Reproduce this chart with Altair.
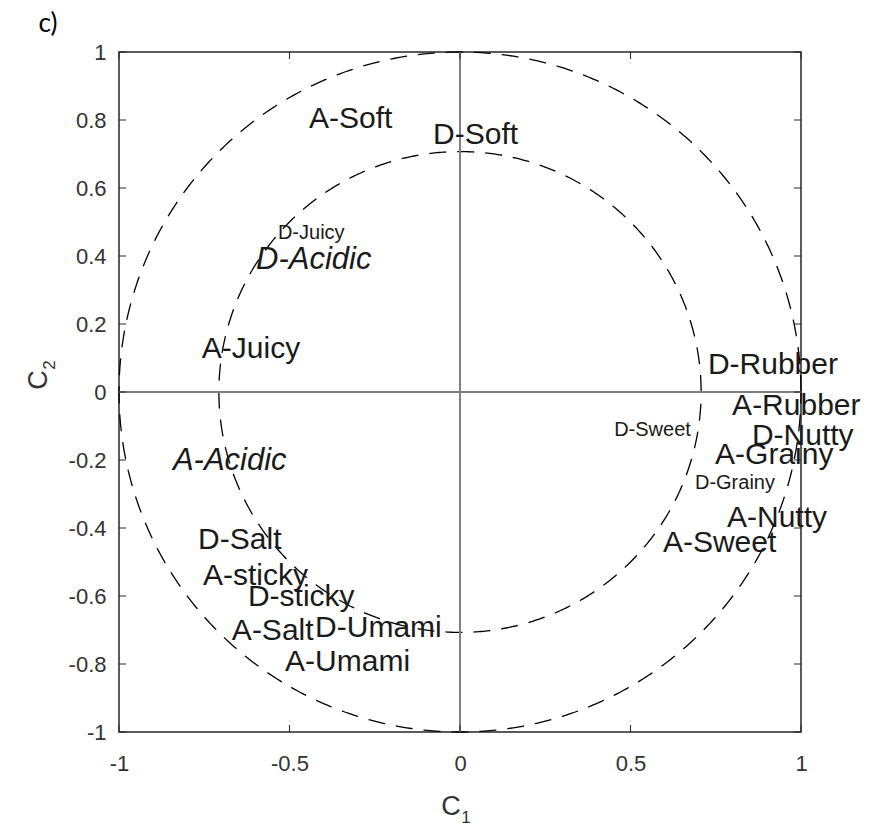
import altair as alt
import numpy as np
import pandas as pd

# ---- data ----
reg_labels = ["A-Soft", "D-Soft", "A-Juicy", "D-Rubber", "A-Rubber", "D-Nutty",
              "A-Grainy", "A-Nutty", "A-Sweet", "D-Salt", "A-sticky", "D-sticky",
              "A-Salt", "D-Umami", "A-Umami"]
reg_x = [-0.443, -0.079, -0.757, 0.727, 0.798, 0.856,
         0.748, 0.783, 0.595, -0.768, -0.754, -0.622,
         -0.669, -0.425, -0.513]
reg_y = [0.803, 0.756, 0.126, 0.079, -0.041, -0.129,
         -0.185, -0.371, -0.444, -0.435, -0.541, -0.603,
         -0.703, -0.694, -0.794]

small_labels = ["D-Juicy", "D-Sweet", "D-Grainy"]
small_x = [-0.534, 0.452, 0.689]
small_y = [0.468, -0.112, -0.268]

italic_labels = ["D-Acidic", "A-Acidic"]
italic_x = [-0.598, -0.842]
italic_y = [0.388, -0.203]

x_ticks = [-1, -0.5, 0, 0.5, 1]
y_ticks = [-1, -0.8, -0.6, -0.4, -0.2, 0, 0.2, 0.4, 0.6, 0.8, 1]
circle_radii = [1.0, 0.7071]

W, H = 682, 680
FONT = "Liberation Sans"
AX = "#262626"

# ---- tables ----
theta = np.linspace(0, 2 * np.pi, 721)
circ = pd.concat([
    pd.DataFrame({"x": r * np.cos(theta), "y": r * np.sin(theta),
                  "i": np.arange(len(theta)), "r": r})
    for r in circle_radii
])
reg_df = pd.DataFrame({"label": reg_labels, "x": reg_x, "y": reg_y})
small_df = pd.DataFrame({"label": small_labels, "x": small_x, "y": small_y})
ital_df = pd.DataFrame({"label": italic_labels, "x": italic_x, "y": italic_y})
xt = pd.DataFrame({"x": x_ticks})
yt = pd.DataFrame({"y": y_ticks})
hline_df = pd.DataFrame({"x": [-1.0], "x2": [1.0], "y": [0.0]})
vline_df = pd.DataFrame({"y": [-1.0], "y2": [1.0], "x": [0.0]})

LBL = "replace(format(datum.value, '~g'), '\u2212', '-')"
xscale = alt.Scale(domain=[-1, 1], nice=False, zero=False)
yscale = alt.Scale(domain=[-1, 1], nice=False, zero=False)
xaxis = alt.Axis(values=x_ticks, labelExpr=LBL, ticks=False, domain=False, grid=False,
                 labelFont=FONT, labelFontSize=22, labelColor="#333333",
                 labelPadding=21, labelFlush=False, title=None)
yaxis = alt.Axis(values=y_ticks, labelExpr=LBL, ticks=False, domain=False, grid=False,
                 labelFont=FONT, labelFontSize=22, labelColor="#333333",
                 labelPadding=13, labelFlush=False, title=None)
X = alt.X("x:Q", scale=xscale, axis=xaxis)
Y = alt.Y("y:Q", scale=yscale, axis=yaxis)

circles = alt.Chart(circ).mark_line(color="black", strokeWidth=1.3,
                                    strokeDash=[17, 11]).encode(
    x=X, y=Y, order="i:Q", detail="r:N")

hline = alt.Chart(hline_df).mark_rule(color="#808080", strokeWidth=2).encode(
    x=X, x2="x2:Q", y=Y)
vline = alt.Chart(vline_df).mark_rule(color="#808080", strokeWidth=2).encode(
    y=Y, y2="y2:Q", x=X)

tick_b = alt.Chart(xt).mark_rule(color=AX, strokeWidth=1).encode(
    x=X, y=alt.value(H), y2=alt.value(H - 7))
tick_t = alt.Chart(xt).mark_rule(color=AX, strokeWidth=1).encode(
    x=X, y=alt.value(0), y2=alt.value(7))
tick_l = alt.Chart(yt).mark_rule(color=AX, strokeWidth=1).encode(
    y=Y, x=alt.value(0), x2=alt.value(7))
tick_r = alt.Chart(yt).mark_rule(color=AX, strokeWidth=1).encode(
    y=Y, x=alt.value(W), x2=alt.value(W - 7))

reg_text = alt.Chart(reg_df).mark_text(align="left", baseline="middle", font=FONT,
                                       fontSize=30, color="#1a1a1a").encode(
    x=X, y=Y, text="label:N")
small_text = alt.Chart(small_df).mark_text(align="left", baseline="middle", font=FONT,
                                           fontSize=20, color="#1a1a1a").encode(
    x=X, y=Y, text="label:N")
ital_text = alt.Chart(ital_df).mark_text(align="left", baseline="middle", font=FONT,
                                         fontSize=31, fontStyle="italic",
                                         color="#1a1a1a").encode(
    x=X, y=Y, text="label:N")

one = pd.DataFrame({"t": [0]})
c1 = alt.Chart(one).mark_text(text="C", font=FONT, fontSize=27, color="#333333",
                              align="center", baseline="middle").encode(
    x=alt.value(332), y=alt.value(755))
c1s = alt.Chart(one).mark_text(text="1", font=FONT, fontSize=17, color="#333333",
                               align="center", baseline="middle").encode(
    x=alt.value(347), y=alt.value(766))
c2 = alt.Chart(one).mark_text(text="C", font=FONT, fontSize=27, color="#333333",
                              align="center", baseline="middle", angle=270).encode(
    x=alt.value(-80), y=alt.value(328))
c2s = alt.Chart(one).mark_text(text="2", font=FONT, fontSize=17, color="#333333",
                               align="center", baseline="middle", angle=270).encode(
    x=alt.value(-69), y=alt.value(313))
panel = alt.Chart(one).mark_text(text="c)", font="Lato", fontSize=26, color="black",
                                 align="center", baseline="middle").encode(
    x=alt.value(-71), y=alt.value(-28))

chart = alt.layer(
    circles, hline, vline, tick_b, tick_t, tick_l, tick_r,
    reg_text, small_text, ital_text, c1, c1s, c2, c2s, panel
).properties(
    width=W, height=H,
    autosize=alt.AutoSizeParams(type="none"),
    padding={"left": 119, "top": 52, "right": 71, "bottom": 96},
    background="white",
).configure_view(stroke=AX, strokeWidth=1.5)

chart.save("out.html", embed_options={"renderer": "svg", "actions": False})
